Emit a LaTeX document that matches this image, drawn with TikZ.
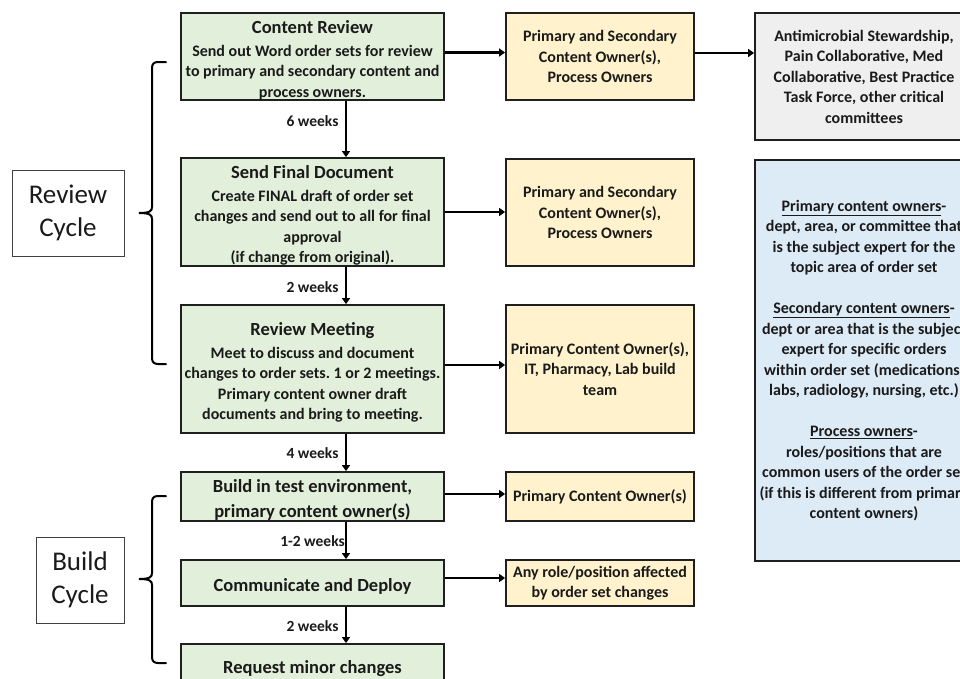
\documentclass[tikz,border=0pt]{standalone}
\usepackage{fontspec}
\setmainfont{Carlito}
\frenchspacing
\usetikzlibrary{arrows.meta}
\definecolor{gfill}{HTML}{E2EFDA}
\definecolor{yfill}{HTML}{FFF2CC}
\definecolor{grfill}{HTML}{EFEFEF}
\definecolor{bfill}{HTML}{DDEBF7}
\definecolor{boxline}{HTML}{1F1F1F}
\definecolor{txt}{HTML}{1A1A1A}
\newcommand{\tfont}{\fontsize{18.5}{22}\selectfont}
\newcommand{\tstrut}{\rule{0pt}{20pt}}
\tikzset{
  box/.style={draw=boxline, line width=1.8pt, inner sep=0pt, align=center,
    font=\bfseries\fontsize{16}{20.5}\selectfont, text=txt},
  gbox/.style={box, fill=gfill, minimum width=263pt},
  ybox/.style={box, fill=yfill, minimum width=188pt},
  cyclebox/.style={draw=black!75, line width=1pt, inner sep=0pt, align=center,
    font=\fontsize{27}{33}\selectfont, text=txt},
  arr/.style={line width=2.5pt, draw=black, -{Triangle[width=8pt,length=6pt]}},
  lbl/.style={font=\bfseries\fontsize{15.5}{18}\selectfont, text=txt},
  brace/.style={line width=2pt, draw=black, line cap=round}
}
\begin{document}
\begin{tikzpicture}[x=1pt,y=-1pt]
\useasboundingbox (0,0) rectangle (960,678);
\clip (0,0) rectangle (960,678);
\fill[white] (0,0) rectangle (960,678);

% green process boxes
\node[gbox, minimum height=87pt] (g1) at (312.5,56.5)
  {\tstrut{\tfont Content Review}\\[2.5pt]Send out Word order sets for review\\to primary and secondary content and\\process owners.};
\node[gbox, minimum height=108pt] (g2) at (312.5,212)
  {\tstrut{\tfont Send Final Document}\\[2pt]Create FINAL draft of order set\\changes and send out to all for final\\approval\\(if change from original).};
\node[gbox, minimum height=128pt] (g3) at (312.5,369)
  {\tstrut{\tfont Review Meeting}\\[2pt]Meet to discuss and document\\changes to order sets. 1 or 2 meetings.\\Primary content owner draft\\documents and bring to meeting.};
\node[gbox, minimum height=49pt, font=\bfseries\fontsize{18.5}{24.5}\selectfont] (g4) at (312.5,496.5)
  {\tstrut Build in test environment,\\primary content owner(s)};
\node[gbox, minimum height=46pt, font=\bfseries\fontsize{18.5}{22}\selectfont] (g5) at (312.5,583)
  {\tstrut Communicate and Deploy};
\node[gbox, minimum height=42pt, font=\bfseries\fontsize{18.5}{22}\selectfont] (g6) at (312.5,665)
  {\tstrut Request minor changes};

% yellow owner boxes
\node[ybox, minimum height=87pt] (y1) at (600,56.5)
  {Primary and Secondary\\Content Owner(s),\\Process Owners};
\node[ybox, minimum height=107pt] (y2) at (600,212.5)
  {Primary and Secondary\\Content Owner(s),\\Process Owners};
\node[ybox, minimum height=128pt] (y3) at (600,369)
  {Primary Content Owner(s),\\IT, Pharmacy, Lab build\\team};
\node[ybox, minimum height=49pt] (y4) at (600,496.5)
  {Primary Content Owner(s)};
\node[ybox, minimum height=46pt] (y5) at (600,583)
  {Any role/position affected\\by order set changes};

% right column
\node[box, fill=grfill, minimum width=218pt, minimum height=127pt] (gr) at (864,76.5)
  {Antimicrobial Stewardship,\\Pain Collaborative, Med\\Collaborative, Best Practice\\Task Force, other critical\\committees};
\node[box, fill=bfill, minimum width=218pt, minimum height=401pt] (bl) at (864,360.5)
  {\underline{Primary content owners}-\\dept, area, or committee that\\is the subject expert for the\\topic area of order set\\[20.5pt]
   \underline{Secondary content owners}-\\dept or area that is the subject\\expert for specific orders\\within order set (medications,\\labs, radiology, nursing, etc.)\\[20.5pt]
   \underline{Process owners}-\\roles/positions that are\\common users of the order set\\(if this is different from primary\\content owners)};

% cycle labels
\node[cyclebox, minimum width=112pt, minimum height=86pt] (rc) at (68,213) {Review\\Cycle};
\node[cyclebox, minimum width=88pt, minimum height=86pt] (bc) at (80,580) {Build\\Cycle};

% horizontal arrows
\draw[arr] ([yshift=4pt]g1.east) -- ([yshift=4pt]y1.west);
\draw[arr] (g2.east) -- (g2.east -| y2.west);
\draw[arr] ([yshift=4pt]g3.east) -- ([yshift=4pt]y3.west);
\draw[arr] ([yshift=2.5pt]g4.east) -- ([yshift=2.5pt]y4.west);
\draw[arr] ([yshift=5pt]g5.east) -- ([yshift=5pt]y5.west);
\draw[arr] ([yshift=3.5pt]y1.east) -- ([yshift=3.5pt]y1.east -| gr.west);

% vertical arrows
\draw[arr] ([xshift=33.5pt]g1.south) -- ([xshift=33.5pt]g2.north);
\draw[arr] ([xshift=33.5pt]g2.south) -- ([xshift=33.5pt]g3.north);
\draw[arr] ([xshift=33.5pt]g3.south) -- ([xshift=33.5pt]g4.north);
\draw[arr] ([xshift=33.5pt]g4.south) -- ([xshift=33.5pt]g5.north);
\draw[arr] ([xshift=33.5pt]g5.south) -- ([xshift=33.5pt]g6.north);

% duration labels
\node[lbl] (w1) at (312.5,121) {6 weeks};
\node[lbl] (w2) at (312.5,287) {2 weeks};
\node[lbl] (w3) at (312.5,453) {4 weeks};
\node[lbl] (w4) at (312.5,541) {1-2 weeks};
\node[lbl] (w5) at (312.5,626) {2 weeks};

% braces
\draw[brace] (166,62) -- (158,62) .. controls (154,62) and (152,64) .. (152,68)
  -- (152,207) .. controls (152,211) and (150,213) .. (139,213)
  .. controls (150,213) and (152,215) .. (152,219)
  -- (152,358) .. controls (152,362) and (154,364) .. (158,364) -- (166,364);
\draw[brace] (166,496) -- (158,496) .. controls (154,496) and (152,498) .. (152,502)
  -- (152,573) .. controls (152,577) and (150,579) .. (139,579)
  .. controls (150,579) and (152,581) .. (152,585)
  -- (152,657) .. controls (152,661) and (154,663) .. (158,663) -- (166,663);
\end{tikzpicture}
\end{document}
